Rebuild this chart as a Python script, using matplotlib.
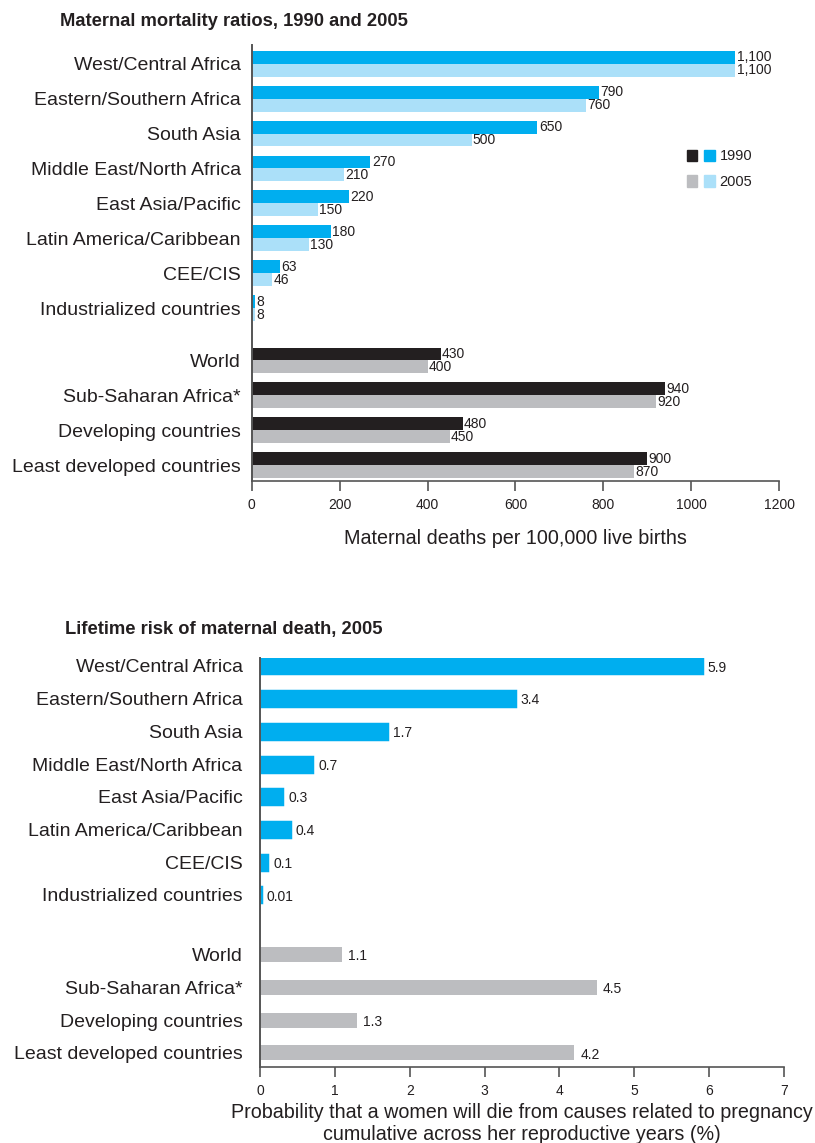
import matplotlib
matplotlib.use('Agg')
import matplotlib.pyplot as plt
from matplotlib.patches import Patch
from matplotlib.legend_handler import HandlerTuple
from matplotlib import font_manager

plt.rcParams['font.family'] = ['Liberation Sans', 'DejaVu Sans']

# Data
regions = ['West/Central Africa', 'Eastern/Southern Africa', 'South Asia',
           'Middle East/North Africa', 'East Asia/Pacific',
           'Latin America/Caribbean', 'CEE/CIS', 'Industrialized countries']
groups = ['World', 'Sub-Saharan Africa*', 'Developing countries',
          'Least developed countries']

mmr_1990_regions = [1100, 790, 650, 270, 220, 180, 63, 8]
mmr_2005_regions = [1100, 760, 500, 210, 150, 130, 46, 8]
mmr_1990_groups = [430, 940, 480, 900]
mmr_2005_groups = [400, 920, 450, 870]

risk_regions = [5.9, 3.4, 1.7, 0.7, 0.3, 0.4, 0.1, 0.01]
risk_labels_regions = ['5.9', '3.4', '1.7', '0.7', '0.3', '0.4', '0.1', '0.01']
risk_groups = [1.1, 4.5, 1.3, 4.2]
risk_labels_groups = ['1.1', '4.5', '1.3', '4.2']

mmr_ticks = [0, 200, 400, 600, 800, 1000, 1200]
risk_ticks = [0, 1, 2, 3, 4, 5, 6, 7]

# Colours
BLUE = '#00aeef'
LIGHT_BLUE = '#abe0f9'
BLACK = '#231f20'
GRAY = '#bcbdc0'
TEXT = '#231f20'

# narrow font for the small numbers, if available
names = {f.name for f in font_manager.fontManager.ttflist}
narrow = ['Liberation Sans Narrow', 'Liberation Sans', 'DejaVu Sans'] \
    if 'Liberation Sans Narrow' in names else ['Liberation Sans', 'DejaVu Sans']

fig = plt.figure(figsize=(8.15, 11.43), dpi=100)


def style_axes(ax, ypad):
    for s in ['top', 'right']:
        ax.spines[s].set_visible(False)
    ax.spines['left'].set_color('#555555')
    ax.spines['bottom'].set_color('#555555')
    ax.spines['left'].set_linewidth(1.4)
    ax.spines['bottom'].set_linewidth(1.2)
    ax.tick_params(axis='y', length=0, pad=ypad, labelsize=14, labelcolor=TEXT)
    ax.tick_params(axis='x', length=7, width=1.2, color='#555555', pad=5)


# ---- top chart: maternal mortality ratios ----
ax1 = fig.add_axes([0.309, 0.579, 0.647, 0.382])
gap1 = 0.5
y_reg = list(range(len(regions)))
y_grp = [len(regions) + gap1 + i for i in range(len(groups))]
h = 0.37

ax1.barh([y - h / 2 for y in y_reg], mmr_1990_regions, height=h, color=BLUE)
ax1.barh([y + h / 2 for y in y_reg], mmr_2005_regions, height=h, color=LIGHT_BLUE)
ax1.barh([y - h / 2 for y in y_grp], mmr_1990_groups, height=h, color=BLACK)
ax1.barh([y + h / 2 for y in y_grp], mmr_2005_groups, height=h, color=GRAY)

for ys, vals_a, vals_b in [(y_reg, mmr_1990_regions, mmr_2005_regions),
                           (y_grp, mmr_1990_groups, mmr_2005_groups)]:
    for y, a, b in zip(ys, vals_a, vals_b):
        ax1.text(a + 3, y - h / 2, f'{a:,}', va='center', ha='left',
                 fontsize=10, color=TEXT, family=narrow)
        ax1.text(b + 3, y + h / 2, f'{b:,}', va='center', ha='left',
                 fontsize=10, color=TEXT, family=narrow)

ax1.set_yticks(y_reg + y_grp)
ax1.set_yticklabels(regions + groups)
ax1.set_ylim(y_grp[-1] + 0.46, -0.55)
ax1.set_xlim(0, 1200)
ax1.set_xticks(mmr_ticks)
ax1.set_xticklabels([str(t) for t in mmr_ticks], fontsize=10, color=TEXT)
ax1.set_xlabel('Maternal deaths per 100,000 live births', fontsize=14.2,
               color=TEXT, labelpad=12)
style_axes(ax1, 8)

fig.text(0.074, 0.981, 'Maternal mortality ratios, 1990 and 2005',
         fontsize=13.2, fontweight='bold', color=TEXT, va='center')

handles = [(Patch(color=BLACK), Patch(color=BLUE)),
           (Patch(color=GRAY), Patch(color=LIGHT_BLUE))]
ax1.legend(handles, ['1990', '2005'],
           handler_map={tuple: HandlerTuple(ndivide=None, pad=0.5)},
           loc='upper left', bbox_to_anchor=(0.80, 0.79), frameon=False,
           handlelength=1.9, handleheight=0.8, handletextpad=0.35,
           labelspacing=0.8, fontsize=10.5, labelcolor=TEXT)

# ---- bottom chart: lifetime risk ----
ax2 = fig.add_axes([0.319, 0.0665, 0.643, 0.358])
gap2 = 0.83
y_reg2 = list(range(len(regions)))
y_grp2 = [len(regions) + gap2 + i for i in range(len(groups))]
h2 = 0.46

ax2.barh(y_reg2, risk_regions, height=h2, color=BLUE, edgecolor=BLUE,
         linewidth=2.5)
ax2.barh(y_grp2, risk_groups, height=h2, color=GRAY)

for y, v, lab in zip(y_reg2 + y_grp2, risk_regions + risk_groups,
                     risk_labels_regions + risk_labels_groups):
    ax2.text(v + 0.08, y + 0.05, lab, va='center', ha='left',
             fontsize=10, color=TEXT, family=narrow)

ax2.set_yticks(y_reg2 + y_grp2)
ax2.set_yticklabels(regions + groups)
ax2.set_ylim(y_grp2[-1] + 0.43, -0.25)
ax2.set_xlim(0, 7)
ax2.set_xticks(risk_ticks)
ax2.set_xticklabels([str(t) for t in risk_ticks], fontsize=10, color=TEXT,
                    family=narrow)
ax2.set_xlabel('Probability that a women will die from causes related to pregnancy\n'
               'cumulative across her reproductive years (%)',
               fontsize=14.2, color=TEXT, labelpad=4, linespacing=1.2)
style_axes(ax2, 12.5)

fig.text(0.080, 0.449, 'Lifetime risk of maternal death, 2005',
         fontsize=13.2, fontweight='bold', color=TEXT, va='center')

fig.savefig('out.png', dpi=100)
